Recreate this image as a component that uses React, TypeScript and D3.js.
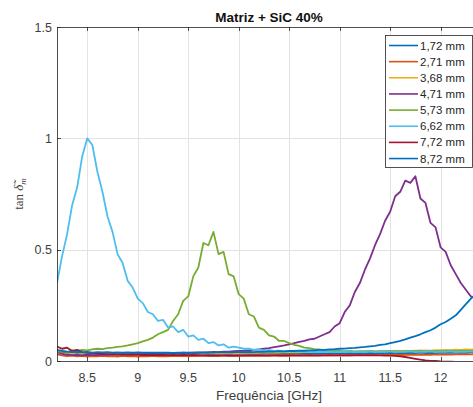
import React, { useEffect, useRef } from "react";
import * as d3 from "d3";

// frequency grid (GHz)
const freq = [
  8.2, 8.25, 8.3, 8.35, 8.4, 8.45, 8.5, 8.55, 8.6, 8.65,
  8.7, 8.75, 8.8, 8.85, 8.9, 8.95, 9.0, 9.05, 9.1, 9.15,
  9.2, 9.25, 9.3, 9.35, 9.4, 9.45, 9.5, 9.55, 9.6, 9.65,
  9.7, 9.75, 9.8, 9.85, 9.9, 9.95, 10.0, 10.05, 10.1, 10.15,
  10.2, 10.25, 10.3, 10.35, 10.4, 10.45, 10.5, 10.55, 10.6, 10.65,
  10.7, 10.75, 10.8, 10.85, 10.9, 10.95, 11.0, 11.05, 11.1, 11.15,
  11.2, 11.25, 11.3, 11.35, 11.4, 11.45, 11.5, 11.55, 11.6, 11.65,
  11.7, 11.75, 11.8, 11.85, 11.9, 11.95, 12.0, 12.05, 12.1, 12.15,
  12.2, 12.25, 12.3, 12.35, 12.4,
];

const s172 = [
  .045, .038, .036, .034, .037, .033, .036, .034, .035, .033,
  .035, .033, .036, .034, .035, .033, .034, .032, .035, .033,
  .034, .032, .035, .033, .034, .032, .034, .033, .035, .033,
  .034, .032, .035, .033, .034, .033, .035, .033, .034, .032,
  .034, .033, .035, .033, .034, .032, .034, .033, .035, .033,
  .034, .033, .035, .034, .036, .034, .035, .034, .036, .034,
  .035, .034, .036, .035, .037, .035, .036, .035, .037, .036,
  .037, .036, .038, .036, .037, .036, .038, .037, .038, .037,
  .038, .037, .039, .038, .039,
];
const s271 = [
  .03, .025, .022, .024, .021, .023, .02, .022, .021, .023,
  .021, .022, .02, .023, .021, .022, .02, .022, .021, .023,
  .021, .022, .021, .023, .022, .023, .021, .023, .022, .024,
  .022, .023, .022, .024, .022, .023, .022, .024, .023, .024,
  .023, .024, .023, .025, .023, .024, .023, .025, .024, .025,
  .024, .025, .024, .026, .025, .026, .025, .026, .025, .027,
  .026, .027, .026, .027, .026, .028, .027, .028, .027, .028,
  .028, .029, .028, .029, .028, .03, .029, .03, .029, .03,
  .03, .031, .03, .031, .031,
];
const s368 = [
  .04, .034, .031, .033, .03, .032, .03, .031, .03, .032,
  .031, .032, .03, .033, .031, .032, .031, .033, .032, .033,
  .032, .034, .033, .034, .033, .035, .034, .035, .034, .036,
  .035, .036, .035, .037, .036, .037, .036, .038, .037, .038,
  .037, .039, .038, .039, .038, .04, .039, .04, .039, .041,
  .04, .041, .04, .042, .041, .042, .041, .043, .042, .043,
  .042, .044, .043, .044, .043, .045, .044, .046, .045, .046,
  .045, .047, .046, .048, .047, .049, .048, .05, .049, .051,
  .05, .052, .051, .053, .052,
];
const s471 = [
  .04, .032, .028, .026, .027, .025, .028, .026, .027, .029,
  .028, .03, .029, .031, .03, .032, .031, .033, .032, .034,
  .033, .035, .034, .036, .035, .037, .036, .038, .037, .039,
  .039, .041, .04, .042, .042, .044, .045, .046, .048, .05,
  .052, .055, .058, .062, .066, .07, .075, .08, .086, .09,
  .097, .10, .11, .12, .13, .155, .17, .22, .25, .31,
  .35, .41, .46, .52, .57, .63, .67, .74, .76, .81,
  .80, .83, .73, .71, .62, .60, .51, .49, .43, .39,
  .35, .32, .29, .28, .25,
];
const s573 = [
  .04, .045, .04, .048, .045, .05, .048, .052, .055, .053,
  .058, .06, .063, .066, .07, .075, .08, .088, .095, .105,
  .12, .13, .14, .18, .21, .27, .29, .38, .42, .53,
  .52, .58, .48, .49, .39, .38, .30, .28, .21, .20,
  .15, .14, .115, .11, .09, .09, .08, .072, .068, .06,
  .058, .053, .052, .048, .047, .045, .045, .043, .045, .042,
  .044, .043, .045, .042, .044, .043, .045, .042, .044, .043,
  .045, .044, .046, .043, .045, .044, .046, .045, .047, .044,
  .046, .045, .047, .046, .048,
];
const s662 = [
  .35, .47, .57, .70, .78, .92, 1.0, .97, .85, .76,
  .65, .58, .48, .44, .36, .33, .28, .26, .22, .21,
  .18, .185, .15, .155, .13, .14, .11, .115, .095, .10,
  .08, .085, .07, .075, .06, .065, .06, .055, .056, .05,
  .052, .047, .049, .045, .047, .043, .045, .042, .044, .041,
  .043, .04, .042, .041, .043, .04, .042, .041, .043, .04,
  .042, .041, .043, .04, .042, .041, .043, .04, .042, .041,
  .043, .04, .042, .041, .043, .04, .042, .041, .043, .04,
  .042, .041, .043, .04, .042,
];
const s772 = [
  .065, .055, .06, .045, .05, .04, .038, .035, .033, .032,
  .03, .031, .029, .03, .028, .029, .028, .027, .028, .027,
  .028, .027, .026, .027, .026, .027, .026, .027, .026, .025,
  .026, .025, .026, .025, .026, .025, .026, .025, .026, .025,
  .026, .025, .026, .025, .026, .025, .026, .025, .026, .025,
  .026, .025, .026, .025, .026, .025, .026, .025, .026, .025,
  .026, .025, .026, .025, .025, .024, .024, .023, .021, .018,
  .014, .01, .006, .003, .001, 0, -.002, -.003, -.003, -.004,
  -.004, -.004, -.005, -.004, -.005,
];
const s872 = [
  .05, .045, .042, .04, .043, .039, .041, .038, .04, .039,
  .04, .038, .039, .037, .039, .038, .039, .037, .038, .037,
  .038, .037, .038, .036, .038, .037, .038, .037, .039, .038,
  .039, .038, .04, .039, .04, .039, .041, .04, .041, .04,
  .042, .041, .043, .042, .044, .043, .045, .045, .047, .046,
  .048, .048, .05, .05, .052, .053, .055, .056, .058, .059,
  .061, .063, .066, .068, .072, .075, .08, .085, .09, .097,
  .105, .112, .12, .13, .138, .15, .165, .175, .19, .205,
  .23, .255, .28, .30, .32,
];

const seriesNames = ["1,72 mm", "2,71 mm", "3,68 mm", "4,71 mm", "5,73 mm", "6,62 mm", "7,72 mm", "8,72 mm"];
const seriesColors = ["#0072BD", "#D95319", "#EDB120", "#7E2F8E", "#77AC30", "#4DBEEE", "#A2142F", "#0072BD"];
const seriesValues = [s172, s271, s368, s471, s573, s662, s772, s872];

const xTicks = [8.5, 9, 9.5, 10, 10.5, 11, 11.5, 12];
const yTicks = [0, 0.5, 1, 1.5];
const yTickLabels = ["0", "0.5", "1", "1.5"];

const App = () => {
  const ref = useRef(null);

  useEffect(() => {
    const width = 473;
    const height = 407;
    const left = 57;
    const right = 481;
    const top = 27;
    const bottom = 361;
    const font = "'Liberation Sans', Arial, Helvetica, sans-serif";
    const ink = "#262626";

    const x = d3.scaleLinear().domain([8.2, 12.4]).range([left, right]);
    const y = d3.scaleLinear().domain([0, 1.5]).range([bottom, top]);

    const svg = d3.select(ref.current).attr("width", width).attr("height", height);
    svg.selectAll("*").remove();

    svg.append("rect").attr("width", width).attr("height", height).attr("fill", "white");

    svg
      .append("defs")
      .append("clipPath")
      .attr("id", "plotclip")
      .append("rect")
      .attr("x", left)
      .attr("y", top)
      .attr("width", right - left)
      .attr("height", bottom - top);

    // grid
    const grid = svg.append("g").attr("stroke", "#e3e3e3").attr("stroke-width", 1);
    grid
      .selectAll(".gx")
      .data(xTicks)
      .join("line")
      .attr("x1", (d) => Math.round(x(d)) + 0.5)
      .attr("x2", (d) => Math.round(x(d)) + 0.5)
      .attr("y1", top)
      .attr("y2", bottom);
    grid
      .selectAll(".gy")
      .data(yTicks.slice(1, -1))
      .join("line")
      .attr("y1", (d) => Math.round(y(d)) + 0.5)
      .attr("y2", (d) => Math.round(y(d)) + 0.5)
      .attr("x1", left)
      .attr("x2", right);

    // curves
    const line = d3
      .line<number>()
      .x((_, i) => x(freq[i]))
      .y((d) => y(d));

    svg
      .append("g")
      .attr("clip-path", "url(#plotclip)")
      .selectAll("path")
      .data(seriesValues)
      .join("path")
      .attr("fill", "none")
      .attr("stroke", (_, i) => seriesColors[i])
      .attr("stroke-width", 1.8)
      .attr("stroke-linejoin", "round")
      .attr("d", (d) => line(d));

    // box
    svg
      .append("rect")
      .attr("x", left + 0.5)
      .attr("y", top + 0.5)
      .attr("width", right - left)
      .attr("height", bottom - top)
      .attr("fill", "none")
      .attr("stroke", ink)
      .attr("stroke-width", 0.8);

    // ticks (inward, both sides)
    const ticks = svg.append("g").attr("stroke", ink).attr("stroke-width", 0.8);
    xTicks.forEach((t) => {
      const px = Math.round(x(t)) + 0.5;
      ticks.append("line").attr("x1", px).attr("x2", px).attr("y1", bottom).attr("y2", bottom - 4);
      ticks.append("line").attr("x1", px).attr("x2", px).attr("y1", top).attr("y2", top + 4);
    });
    yTicks.forEach((t) => {
      const py = Math.round(y(t)) + 0.5;
      ticks.append("line").attr("x1", left).attr("x2", left + 4).attr("y1", py).attr("y2", py);
    });

    // tick labels
    svg
      .append("g")
      .selectAll("text")
      .data(xTicks)
      .join("text")
      .attr("x", (d) => x(d))
      .attr("y", bottom + 21)
      .attr("text-anchor", "middle")
      .attr("font-family", font)
      .attr("font-size", 12.5)
      .attr("fill", "#404040")
      .text((d) => String(d));

    svg
      .append("g")
      .selectAll("text")
      .data(yTicks)
      .join("text")
      .attr("x", left - 5)
      .attr("y", (d) => y(d) + 4.5)
      .attr("text-anchor", "end")
      .attr("font-family", font)
      .attr("font-size", 12.5)
      .attr("fill", "#404040")
      .text((_, i) => yTickLabels[i]);

    // title
    svg
      .append("text")
      .attr("x", (left + right) / 2)
      .attr("y", 21.5)
      .attr("text-anchor", "middle")
      .attr("font-family", font)
      .attr("font-size", 13.5)
      .attr("font-weight", "bold")
      .attr("fill", "#111")
      .text("Matriz + SiC 40%");

    // x label
    svg
      .append("text")
      .attr("x", (left + right) / 2)
      .attr("y", 400)
      .attr("text-anchor", "middle")
      .attr("font-family", font)
      .attr("font-size", 13.5)
      .attr("fill", "#404040")
      .text("Frequência [GHz]");

    // y label
    const yl = svg
      .append("text")
      .attr("transform", `translate(23,${(top + bottom) / 2}) rotate(-90)`)
      .attr("text-anchor", "middle")
      .attr("font-family", "'Liberation Serif', 'DejaVu Serif', serif")
      .attr("font-size", 13)
      .attr("fill", "#404040");
    yl.append("tspan").text("tan ");
    yl.append("tspan").attr("font-style", "italic").text("δ̃");
    yl.append("tspan").attr("font-style", "italic").attr("font-size", 9).attr("dy", 3).text("m");

    // legend
    const lg = svg.append("g");
    lg.append("rect")
      .attr("x", 385.5)
      .attr("y", 35.5)
      .attr("width", 87)
      .attr("height", 132)
      .attr("fill", "white")
      .attr("stroke", ink)
      .attr("stroke-width", 0.8);
    seriesNames.forEach((name, i) => {
      const ry = 45.5 + i * 16.15;
      lg.append("line")
        .attr("x1", 389)
        .attr("x2", 418)
        .attr("y1", ry)
        .attr("y2", ry)
        .attr("stroke", seriesColors[i])
        .attr("stroke-width", 1.6);
      lg.append("text")
        .attr("x", 420)
        .attr("y", ry + 4)
        .attr("font-family", font)
        .attr("font-size", 11.5)
        .attr("fill", "#262626")
        .text(name);
    });
  }, []);

  return (
    <div style={{ position: "absolute", left: 0, top: 0, width: 473, height: 407, overflow: "hidden" }}>
      <svg ref={ref} style={{ display: "block" }}></svg>
    </div>
  );
};

export default App;
